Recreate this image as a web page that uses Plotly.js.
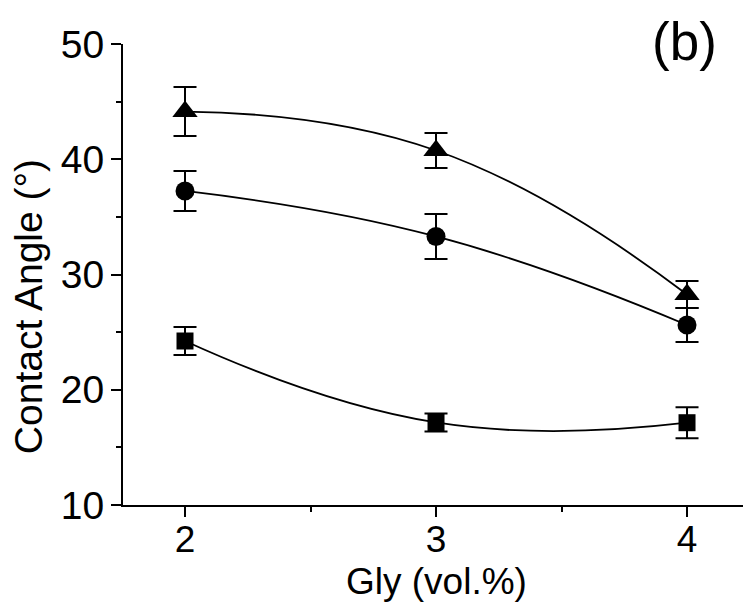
<!DOCTYPE html>
<html>
<head>
<meta charset="utf-8">
<script src="https://cdn.plot.ly/plotly-3.0.1.min.js"></script>
<style>
  html, body { margin: 0; padding: 0; background: #fff; }
  #chart { width: 743px; height: 604px; }
</style>
</head>
<body>
<div id="chart"></div>
<script>
// Glycerol content (vol.%)
const gly = [2, 3, 4];

// Contact angle (degrees) and error for each sample series
const triangleAngle = [44.14, 40.76, 28.26];
const triangleErr   = [2.13, 1.52, 1.17];

const circleAngle = [37.25, 33.30, 25.62];
const circleErr   = [1.74, 1.95, 1.48];

const squareAngle = [24.23, 17.16, 17.14];
const squareErr   = [1.21, 0.78, 1.34];

// Axis tick labels
const xTicks = [2, 3, 4];
const yTicks = [10, 20, 30, 40, 50];

const FONT = 'Liberation Sans, Arial, Helvetica, sans-serif';

function series(y, err, symbol, size) {
  return {
    x: gly,
    y: y,
    type: 'scatter',
    mode: 'lines+markers',
    line: { color: '#000', width: 1.8, shape: 'spline', smoothing: 1.3 },
    marker: { symbol: symbol, size: size, color: '#000', line: { width: 0 } },
    error_y: { type: 'data', array: err, visible: true, color: '#000', thickness: 2, width: 11.5 },
    showlegend: false,
    cliponaxis: false,
    hoverinfo: 'x+y'
  };
}

const data = [
  series(squareAngle, squareErr, 'square', 17),
  series(circleAngle, circleErr, 'circle', 19),
  series(triangleAngle, triangleErr, 'triangle-up', 22)
];

const axisCommon = {
  showline: true,
  linecolor: '#000',
  linewidth: 2,
  ticks: 'outside',
  ticklen: 10,
  tickwidth: 2,
  tickcolor: '#000',
  showgrid: false,
  zeroline: false,
  fixedrange: true
};

const layout = {
  width: 743,
  height: 604,
  margin: { l: 123, r: 0, t: 44, b: 99, pad: 0 },
  paper_bgcolor: '#fff',
  plot_bgcolor: '#fff',
  font: { family: FONT, color: '#000' },
  xaxis: Object.assign({}, axisCommon, {
    range: [1.753, 4.223],
    tickmode: 'array',
    tickvals: xTicks,
    ticktext: xTicks.map(String),
    tickfont: { family: FONT, size: 37, color: '#000' },
    ticklabelstandoff: -9,
    minor: { tickvals: [2.5, 3.5], ticks: 'outside', ticklen: 5, tickwidth: 2, tickcolor: '#000', showgrid: false }
  }),
  yaxis: Object.assign({}, axisCommon, {
    range: [10, 50],
    tickmode: 'array',
    tickvals: yTicks,
    ticktext: yTicks.map(String),
    tickfont: { family: FONT, size: 39, color: '#000' },
    ticklabelstandoff: -1,
    minor: { tickvals: [15, 25, 35, 45], ticks: 'outside', ticklen: 5, tickwidth: 2, tickcolor: '#000', showgrid: false }
  }),
  annotations: [
    {
      text: 'Contact Angle (°)',
      xref: 'paper', yref: 'paper',
      x: -0.153, y: 0.4295,
      xanchor: 'center', yanchor: 'middle',
      textangle: -90,
      showarrow: false,
      font: { family: FONT, size: 39, color: '#000' }
    },
    {
      text: 'Gly (vol.%)',
      xref: 'paper', yref: 'paper',
      x: 0.506, y: -0.2148,
      xanchor: 'center', yanchor: 'bottom',
      showarrow: false,
      font: { family: FONT, size: 37, color: '#000' }
    },
    {
      text: '(b)',
      xref: 'paper', yref: 'paper',
      x: 0.906, y: 1.0065,
      xanchor: 'center', yanchor: 'middle',
      showarrow: false,
      font: { family: FONT, size: 53, color: '#000' }
    }
  ]
};

Plotly.newPlot('chart', data, layout, { staticPlot: true, displayModeBar: false });
</script>
</body>
</html>
